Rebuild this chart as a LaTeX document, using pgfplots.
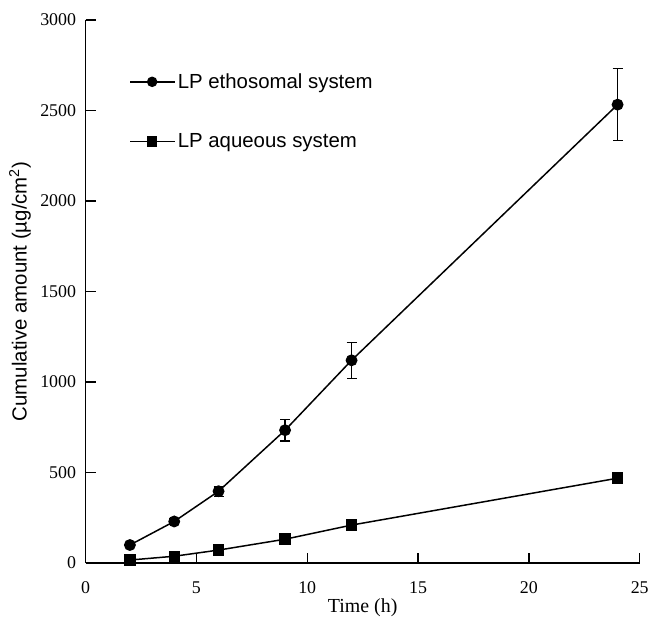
\documentclass[border=0pt]{standalone}
\usepackage{fontspec}
\setmainfont{Liberation Serif}
\newfontfamily\arial{Liberation Sans}
\usepackage{pgfplots}
\pgfplotsset{compat=1.18}

\begin{document}
\begin{tikzpicture}
\begin{axis}[
    scale only axis,
    width=557pt, height=546pt,
    xmin=0, xmax=25, ymin=0, ymax=3000,
    axis x line*=bottom, axis y line*=left,
    axis line style={-, line width=1.4pt},
    xtick={0,5,...,25}, ytick={0,500,...,3000},
    tick align=inside, major tick length=10pt,
    tick style={line width=1.3pt, black},
    /pgf/number format/assume math mode=true,
    /pgf/number format/1000 sep={},
    ticklabel style={font=\fontsize{18}{21}\selectfont},
    yticklabel style={xshift=-6pt},
    xticklabel style={yshift=-15pt},
    xlabel={Time (h)},
    xlabel style={font=\fontsize{20}{23}\selectfont, at={([yshift=-45pt]axis description cs:0.5,0)}, anchor=center},
    ylabel={Cumulative amount (µg/cm\textsuperscript{2})},
    ylabel style={font=\arial\fontsize{20.5}{24}\selectfont, at={([xshift=-66pt]axis description cs:0,0.5)}, anchor=center},
    clip=false,
    legend style={draw=none, fill=none, inner sep=0pt, at={(0.079,0.905)}, anchor=north west,
        font=\arial\fontsize{20.5}{24}\selectfont, row sep=40pt},
    legend cell align=left,
    legend image code/.code={\draw[mark repeat=2,mark phase=2,mark size=4.5pt] plot coordinates {(0pt,0pt) (22pt,0pt) (45pt,0pt)};},
    error bars/error bar style={line width=1.3pt, black},
    error bars/error mark options={rotate=90, mark size=5pt, line width=1.3pt, black},
]
\addplot[black, line width=1.5pt, mark=*, mark size=5.2pt, mark options={solid, fill=black},
    error bars/.cd, y dir=both, y explicit]
    coordinates {(2,100) +- (0,10) (4,230) +- (0,15) (6,397) +- (0,28)
                 (9,734) +- (0,60) (12,1120) +- (0,100) (24,2532) +- (0,200)};
\addlegendentry{LP ethosomal system}
\addplot[black, line width=1.5pt, mark=square*, mark size=5pt, mark options={solid, fill=black},
    error bars/.cd, y dir=both, y explicit]
    coordinates {(2,17) +- (0,8) (4,38) +- (0,10) (6,72) +- (0,12)
                 (9,132) +- (0,12) (12,210) +- (0,12) (24,469) +- (0,25)};
\addlegendentry{LP aqueous system}
\path (rel axis cs:0,1) ++(-86pt,20pt);
\path (rel axis cs:1,0) ++(9pt,-59pt);
\end{axis}
\end{tikzpicture}
\end{document}
